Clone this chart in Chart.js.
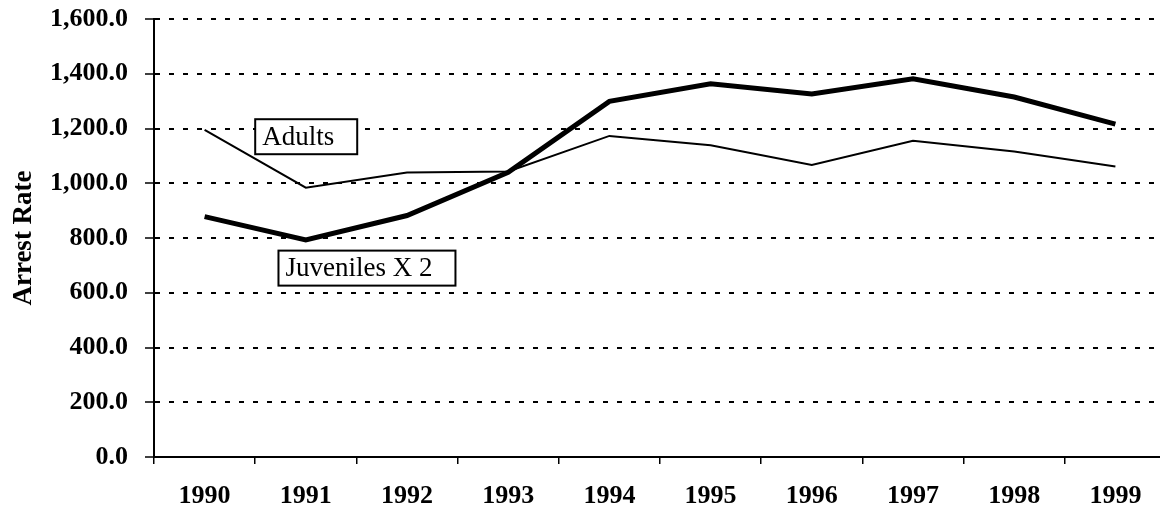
<!DOCTYPE html>
<html>
<head>
<meta charset="utf-8">
<script src="https://cdn.jsdelivr.net/npm/chart.js@4"></script>
<style>
  body { margin: 0; overflow: hidden; background: #fff; }
  #wrap { width: 1170px; height: 512px; }
</style>
</head>
<body>
<div id="wrap"><canvas id="chart" width="1170" height="512"></canvas></div>
<script>
// values
const years = ['1990', '1991', '1992', '1993', '1994', '1995', '1996', '1997', '1998', '1999']
const adults = [1195, 984, 1039, 1043, 1173, 1139, 1067, 1155, 1116, 1061]
const juvenilesX2 = [878, 793, 882, 1040, 1299, 1363, 1326, 1382, 1315, 1216]

const serif = '"Liberation Serif", "Times New Roman", serif'

// boxed text labels, anchored in data coordinates (category index, value)
const boxLabels = {
    id: 'boxLabels',
    afterDatasetsDraw(chart, args, opts) {
        const ctx = chart.ctx
        const x = chart.scales.x
        const y = chart.scales.y
        ctx.save()
        ctx.font = '27px ' + serif
        ctx.textBaseline = 'middle'
        for (const l of opts.items) {
            const w = ctx.measureText(l.text).width + 30
            const h = 35
            const left = x.getPixelForValue(l.x)
            const top = y.getPixelForValue(l.y) - h / 2
            ctx.fillStyle = '#fff'
            ctx.fillRect(left, top, w, h)
            ctx.strokeStyle = '#000'
            ctx.lineWidth = 2
            ctx.strokeRect(left, top, w, h)
            ctx.fillStyle = '#000'
            ctx.fillText(l.text, left + 7, top + h / 2 + 1)
        }
        ctx.restore()
    }
}

const chart = new Chart(document.getElementById('chart').getContext('2d'), {
    type: 'line',
    data: {
        labels: years,
        datasets: [
            { label: 'Adults', data: adults, borderColor: '#000', borderWidth: 2, pointRadius: 0, tension: 0 },
            { label: 'Juveniles X 2', data: juvenilesX2, borderColor: '#000', borderWidth: 5, pointRadius: 0, tension: 0 }
        ]
    },
    options: {
        responsive: false,
        animation: false,
        layout: { padding: { left: 0, top: 19, right: 4, bottom: 0 } },
        plugins: {
            legend: { display: false },
            tooltip: { enabled: false },
            boxLabels: {
                items: [
                    { text: 'Adults', x: 0.5, y: 1170 },
                    { text: 'Juveniles X 2', x: 0.73, y: 690 }
                ]
            }
        },
        scales: {
            x: {
                offset: true,
                grid: { offset: true, drawOnChartArea: false, drawTicks: true, tickLength: 7, color: '#000', lineWidth: 1.5 },
                border: { display: true, color: '#000', width: 2 },
                ticks: { color: '#000', padding: 17, font: { family: serif, size: 26, weight: 'bold' }, maxRotation: 0 },
                afterFit(scale) { scale.height = 55 }
            },
            y: {
                min: 0,
                max: 1600,
                ticks: {
                    stepSize: 200,
                    color: '#000',
                    padding: 17,
                    font: { family: serif, size: 26, weight: 'bold' },
                    callback: v => v.toLocaleString('en-US', { minimumFractionDigits: 1, maximumFractionDigits: 1 })
                },
                grid: {
                    color: '#000',
                    lineWidth: 2,
                    tickLength: 9,
                    tickBorderDash: [],
                    tickWidth: 1.5,
                    tickColor: '#000'
                },
                border: { display: true, color: '#000', width: 2, dash: [5, 9] },
                title: { display: true, text: 'Arrest Rate', color: '#000', font: { family: serif, size: 27, weight: 'bold' }, padding: { top: 8, bottom: 0 } },
                afterFit(scale) {
                    scale.width = 154
                    scale.paddingTop = 0
                    scale.paddingBottom = 0
                }
            }
        }
    },
    plugins: [boxLabels]
})
</script>
</body>
</html>
